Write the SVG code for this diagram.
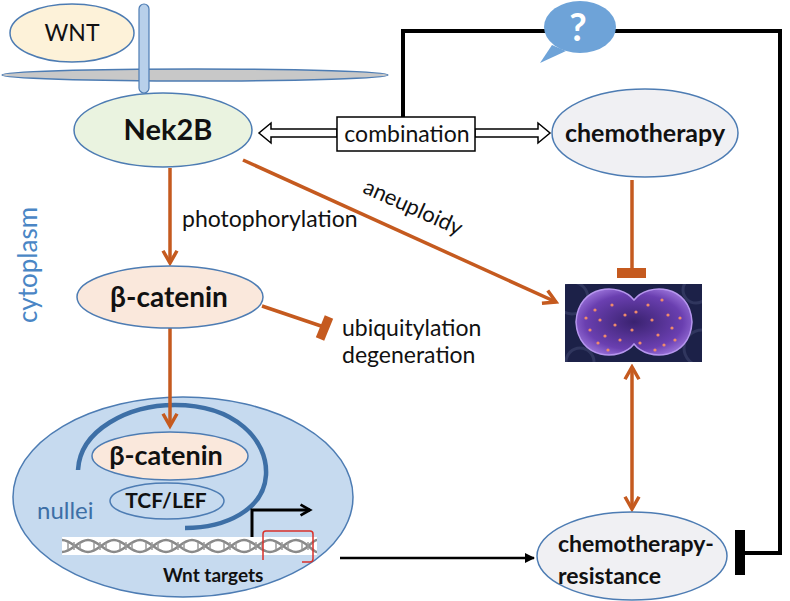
<svg xmlns="http://www.w3.org/2000/svg" width="790" height="601" viewBox="0 0 790 601">
<defs>
<style>
.t{font-family:Lato,"Open Sans","Liberation Sans",sans-serif;fill:#111}
.b{font-weight:bold}
.node{stroke:#4d7cb3;stroke-width:1.5}
.or{stroke:#c55a1f;stroke-width:3.5;fill:none}
.bk{stroke:#000;stroke-width:4;fill:none}
</style>
<marker id="oa" viewBox="0 0 10 10" refX="8" refY="5" markerWidth="5" markerHeight="5" orient="auto-start-reverse" markerUnits="strokeWidth">
<path d="M1,1 L8,5 L1,9" fill="none" stroke="#c55a1f" stroke-width="2"/>
</marker>
<marker id="ba" viewBox="0 0 10 10" refX="9" refY="5" markerWidth="4" markerHeight="4" orient="auto" markerUnits="strokeWidth">
<path d="M0,0 L10,5 L0,10 Z" fill="#000"/>
</marker>
<marker id="ba2" viewBox="0 0 10 10" refX="8" refY="5" markerWidth="4.5" markerHeight="4.5" orient="auto" markerUnits="strokeWidth">
<path d="M1,1 L8,5 L1,9" fill="none" stroke="#000" stroke-width="2"/>
</marker>
<radialGradient id="cellg" cx="0.5" cy="0.5" r="0.6">
<stop offset="0" stop-color="#3a2270"/>
<stop offset="0.7" stop-color="#6a3fb0"/>
<stop offset="1" stop-color="#a27be0"/>
</radialGradient>
<clipPath id="cellclip"><rect x="565" y="284" width="137" height="78"/></clipPath>
</defs>
<rect width="790" height="601" fill="#fff"/>

<g id="membrane">
<ellipse cx="195" cy="75" rx="193" ry="6" fill="#c8c8c8" stroke="#4d7cb3" stroke-width="1.5"/>
<rect x="139" y="4" width="10" height="89" rx="5" fill="#b8d0ea" stroke="#4d7cb3" stroke-width="1.2"/>
</g>

<g id="wnt">
<ellipse class="node" cx="72" cy="33" rx="62" ry="29" fill="#fdf2d9"/>
<text class="t" x="72" y="41" font-size="23" text-anchor="middle">WNT</text>
</g>

<g id="cytoplasm-label">
<text class="t" x="0" y="0" font-size="26" text-anchor="middle" transform="translate(37,265) rotate(-90)" style="fill:#4a86c5">cytoplasm</text>
</g>

<g id="nucleus">
<ellipse class="node" cx="183" cy="497" rx="170" ry="100" fill="#c6daef"/>
<path d="M78,470 C80,430 128,405 175,405 C235,405 268,440 266,475 C264,510 225,528 185,528" fill="none" stroke="#3d6fa6" stroke-width="4.5"/>
<text class="t" x="37" y="519" font-size="24" style="fill:#3d6fa6">nullei</text>
</g>

<g id="connectors">
<path class="bk" d="M403,117 L403,31 L780,31 L780,553 L740,553"/>
<line x1="740" y1="530" x2="740" y2="575" stroke="#000" stroke-width="10"/>
<polygon points="337,129 271,129 271,123 259,133 271,143 271,137 337,137" fill="#fff" stroke="#000" stroke-width="1.5"/>
<polygon points="475,129 538,129 538,123 550,133 538,143 538,137 475,137" fill="#fff" stroke="#000" stroke-width="1.5"/>
<line class="or" x1="170" y1="168" x2="170" y2="263" marker-end="url(#oa)"/>
<line class="or" x1="170" y1="328" x2="170" y2="426" marker-end="url(#oa)"/>
<line class="or" x1="243" y1="160" x2="556" y2="302" marker-end="url(#oa)"/>
<line class="or" x1="262" y1="306" x2="324" y2="327"/>
<line x1="320" y1="339" x2="329" y2="317" stroke="#c55a1f" stroke-width="9"/>
<line class="or" x1="632" y1="180" x2="632" y2="270"/>
<rect x="617" y="268" width="29" height="10" fill="#c55a1f"/>
<line class="or" x1="632" y1="367" x2="632" y2="509" marker-start="url(#oa)" marker-end="url(#oa)"/>
<line x1="340" y1="558" x2="534" y2="558" stroke="#000" stroke-width="2.5" marker-end="url(#ba)"/>
<path d="M252,537 L252,510 L310,510" fill="none" stroke="#000" stroke-width="3" marker-end="url(#ba2)"/>
</g>

<g id="question">
<path d="M552,45 L540,63 L566,51 Z" fill="#6ea3d8"/>
<ellipse cx="580" cy="27" rx="36" ry="26" fill="#6ea3d8"/>
<text x="578" y="41" font-size="38" font-weight="bold" text-anchor="middle" font-family="Lato,'Open Sans','Liberation Sans',sans-serif" fill="#fff">?</text>
</g>

<g id="nek2b">
<ellipse class="node" cx="163" cy="130" rx="89" ry="37" fill="#eaf3e0"/>
<text class="t b" x="168" y="140" font-size="29" text-anchor="middle">Nek2B</text>
</g>

<g id="combination">
<rect x="337" y="117" width="138" height="34" fill="#fff" stroke="#000" stroke-width="1.5"/>
<text class="t" x="407" y="142" font-size="23" text-anchor="middle">combination</text>
</g>

<g id="chemotherapy">
<ellipse class="node" cx="645" cy="133" rx="93" ry="44" fill="#f0f0f3"/>
<text class="t b" x="645" y="142" font-size="25" text-anchor="middle">chemotherapy</text>
</g>

<g id="labels">
<text class="t" x="182" y="227" font-size="23">photophorylation</text>
<text class="t" x="0" y="0" font-size="22" transform="translate(410,214) rotate(24.3)" text-anchor="middle">aneuploidy</text>
<text class="t" x="342" y="336" font-size="23">ubiquitylation</text>
<text class="t" x="342" y="363" font-size="23">degeneration</text>
</g>

<g id="bcatenin">
<ellipse class="node" cx="170" cy="297" rx="93" ry="31" fill="#fae8dc"/>
<text class="t b" x="169" y="307" font-size="28" text-anchor="middle">β-catenin</text>
</g>

<g id="bcatenin-nuc">
<ellipse class="node" cx="170" cy="456" rx="78" ry="24" fill="#fae8dc"/>
<text class="t b" x="166" y="465" font-size="27" text-anchor="middle">β-catenin</text>
</g>

<g id="tcflef">
<ellipse class="node" cx="167" cy="501" rx="57" ry="18" fill="#c6daef"/>
<text class="t b" x="166" y="508" font-size="21" text-anchor="middle">TCF/LEF</text>
</g>

<g id="dna">
<rect x="62" y="537" width="255" height="18" fill="#fff"/>
<g fill="none" stroke="#8a8a8a" stroke-width="2.5">
<path d="M62,540 C72,540 78,552 88,552 C98,552 104,540 114,540 C124,540 130,552 140,552 C150,552 156,540 166,540 C176,540 182,552 192,552 C202,552 208,540 218,540 C228,540 234,552 244,552 C254,552 260,540 270,540 C280,540 286,552 296,552 C306,552 312,540 317,540"/>
<path d="M62,552 C72,552 78,540 88,540 C98,540 104,552 114,552 C124,552 130,540 140,540 C150,540 156,552 166,552 C176,552 182,540 192,540 C202,540 208,552 218,552 C228,552 234,540 244,540 C254,540 260,552 270,552 C280,552 286,540 296,540 C306,540 312,552 317,552"/>
</g>
<g stroke="#9a9a9a" stroke-width="1.5">
<path d="M68,543v6M74,542v8M80,543v6M94,543v6M100,542v8M106,543v6M120,543v6M126,542v8M132,543v6M146,543v6M152,542v8M158,543v6M172,543v6M178,542v8M184,543v6M198,543v6M204,542v8M210,543v6M224,543v6M230,542v8M236,543v6M250,543v6M256,542v8M262,543v6M276,543v6M282,542v8M288,543v6M302,543v6M308,542v8"/>
</g>
<path d="M302,562 L310,562 Q313,562 313,559 L313,534 Q313,531 310,531 L266,531 Q263,531 263,534 L263,560" fill="none" stroke="#d9312b" stroke-width="1.5"/>
<text class="t b" x="163" y="582" font-size="19">Wnt targets</text>
</g>

<g id="cell">
<rect x="565" y="284" width="137" height="78" fill="#1c2148"/>
<g fill="none" stroke="#30365e" stroke-width="3" clip-path="url(#cellclip)">
<circle cx="572" cy="298" r="16"/>
<circle cx="702" cy="348" r="18"/>
<circle cx="696" cy="290" r="13"/>
<circle cx="580" cy="362" r="14"/>
</g>
<path d="M634,300 C620,282 578,284 576,322 C578,360 620,362 634,344 C648,362 690,360 692,322 C690,284 648,282 634,300 Z" fill="url(#cellg)" stroke="#b696ee" stroke-width="1.5"/>
<g fill="#f08a6a">
<circle cx="595" cy="310" r="1.6"/><circle cx="600" cy="320" r="1.6"/><circle cx="590" cy="330" r="1.6"/><circle cx="605" cy="336" r="1.6"/><circle cx="612" cy="305" r="1.6"/><circle cx="615" cy="325" r="1.6"/><circle cx="598" cy="343" r="1.6"/><circle cx="620" cy="340" r="1.6"/><circle cx="625" cy="315" r="1.6"/><circle cx="632" cy="330" r="1.6"/><circle cx="636" cy="312" r="1.6"/><circle cx="640" cy="343" r="1.6"/><circle cx="648" cy="305" r="1.6"/><circle cx="652" cy="320" r="1.6"/><circle cx="658" cy="335" r="1.6"/><circle cx="662" cy="300" r="1.6"/><circle cx="668" cy="315" r="1.6"/><circle cx="672" cy="328" r="1.6"/><circle cx="664" cy="345" r="1.6"/><circle cx="680" cy="318" r="1.6"/><circle cx="655" cy="350" r="1.6"/><circle cx="608" cy="350" r="1.6"/><circle cx="586" cy="318" r="1.6"/><circle cx="675" cy="340" r="1.6"/>
</g>
</g>

<g id="resistance">
<ellipse class="node" cx="632" cy="556" rx="95" ry="44" fill="#f0f0f3"/>
<text class="t b" x="558" y="552" font-size="23">chemotherapy-</text>
<text class="t b" x="558" y="584" font-size="23">resistance</text>
</g>
</svg>
